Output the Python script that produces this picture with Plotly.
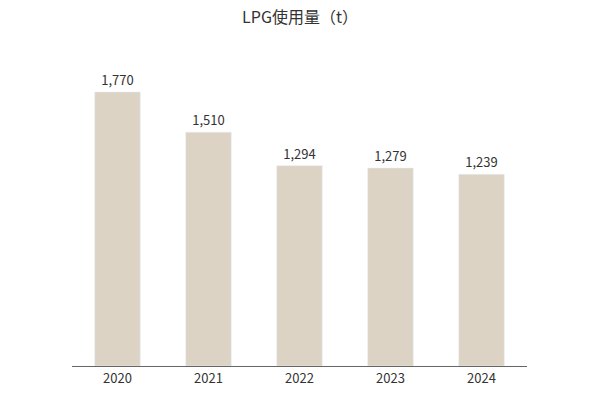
import plotly.graph_objects as go

years = ["2020", "2021", "2022", "2023", "2024"]
lpg_usage = [1770, 1510, 1294, 1279, 1239]

fig = go.Figure(go.Bar(
    x=years, y=lpg_usage,
    marker_color="#dcd3c4",
    width=0.5,
    text=[f"{v:,}" for v in lpg_usage],
    textposition="outside",
    textfont=dict(size=13, color="#333333"),
    cliponaxis=False,
))

fig.update_layout(
    title=dict(text="LPG使用量（t）", x=0.49, y=0.99, xanchor="center", yanchor="top",
               font=dict(size=16, color="#333333")),
    font=dict(family="Noto Sans CJK JP, Noto Sans, sans-serif", color="#333333"),
    width=596, height=420,
    margin=dict(l=64, r=77, t=52, b=62),
    plot_bgcolor="white", paper_bgcolor="white",
    showlegend=False,
)
fig.update_xaxes(showline=True, linecolor="#666666", linewidth=1, ticks="",
                 tickfont=dict(size=13, color="#333333"))
fig.update_yaxes(range=[0, 1977], visible=False, showgrid=False)

fig.write_html("out.html")
